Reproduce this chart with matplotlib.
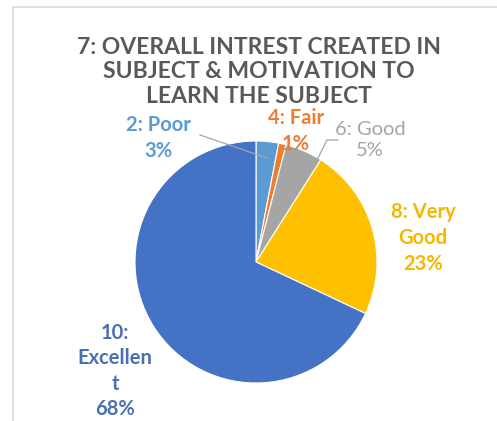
import matplotlib.pyplot as plt
from matplotlib.patches import Rectangle

labels = ["2: Poor", "4: Fair", "6: Good", "8: Very\nGood", "10:\nExcellen\nt"]
values = [3, 1, 5, 23, 68]
colors = ["#5B9BD5", "#ED7D31", "#A5A5A5", "#FFC000", "#4472C4"]
label_colors = ["#5B9BD5", "#ED7D31", "#A5A5A5", "#F2B800", "#4A6FB5"]
title = "7: OVERALL INTREST CREATED IN\nSUBJECT & MOTIVATION TO\nLEARN THE SUBJECT"

W, H = 497, 421
fig = plt.figure(figsize=(W / 100, H / 100), dpi=100)
fig.patch.set_facecolor("white")

# chart area border (only left and top edges visible in the crop)
fig.add_artist(Rectangle((13 / W, -0.1), 1.2, 1 - 7 / H + 0.1, transform=fig.transFigure,
                         fill=False, edgecolor="#D9D9D9", lw=1.2))

cx, cy, r = 256, 262, 121
ax = fig.add_axes([(cx - r) / W, 1 - (cy + r) / H, 2 * r / W, 2 * r / H])
ax.pie(values, colors=colors, startangle=90, counterclock=False,
       wedgeprops=dict(edgecolor="white", linewidth=0.8))
ax.set_xlim(-1, 1)
ax.set_ylim(-1, 1)
ax.set_aspect("equal")

fig.text(259 / W, 1 - 72 / H, title, ha="center", va="center", fontsize=16.5,
         fontweight="bold", color="#595959", family="Lato", linespacing=1.21)

# data labels, placed in pixel coords like the original
pos = [(158, 138), (296, 131), (370, 140), (423, 238), (115, 371)]
weights = ["bold", "bold", "normal", "bold", "bold"]
for lab, v, (x, y), c, w in zip(labels, values, pos, label_colors, weights):
    fig.text(x / W, 1 - y / H, f"{lab}\n{v}%", ha="center", va="center", fontsize=14.5,
             color=c, fontweight=w, family="Lato", linespacing=1.35)

# leader lines
def line(xs, ys):
    fig.add_artist(plt.Line2D([x / W for x in xs], [1 - y / H for y in ys],
                              transform=fig.transFigure, color="#A6A6A6", lw=0.9))

line([200, 267], [135, 158])
line([338, 327, 312], [140, 140, 170])

fig.savefig("out.png", dpi=100)
